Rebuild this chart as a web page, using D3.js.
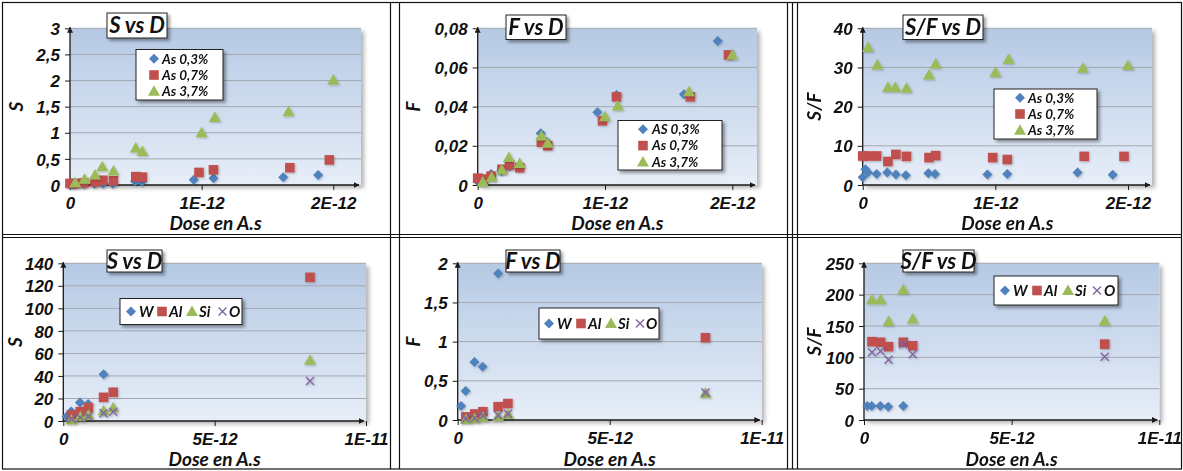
<!DOCTYPE html>
<html><head><meta charset="utf-8">
<script src="https://cdn.jsdelivr.net/npm/d3@7"></script>
<style>
html,body{margin:0;padding:0;background:#fff;}
svg{display:block;font-family:Lato,"Open Sans",sans-serif;}
</style></head><body>
<svg id="c" width="1183" height="471"></svg>
<script>
// ---------- DATA (top row: arsenic doping series) ----------
const as03Dose = [0.00e-12,0.02e-12,0.04e-12,0.105e-12,0.185e-12,0.25e-12,0.325e-12,0.495e-12,0.545e-12,0.94e-12,1.09e-12,1.62e-12,1.885e-12];
const as03S    = [0.004,0.008,0.009,0.016,0.023,0.026,0.023,0.07,0.062,0.10,0.13,0.15,0.19];
const as03F    = [0.002,0.002,0.003,0.0056,0.0071,0.0095,0.009,0.0264,0.022,0.0371,0.046,0.0463,0.0735];
const as03SF   = [2.0,4.0,3.2,2.8,3.2,2.7,2.5,3.0,2.8,2.7,2.8,3.2,2.6];

const as07Dose = [0.00e-12,0.045e-12,0.105e-12,0.19e-12,0.25e-12,0.33e-12,0.50e-12,0.55e-12,0.98e-12,1.09e-12,1.67e-12,1.97e-12];
const as07S    = [0.03,0.03,0.04,0.06,0.09,0.08,0.16,0.15,0.24,0.29,0.33,0.48];
const as07F    = [0.0035,0.003,0.0045,0.008,0.0102,0.0088,0.0218,0.020,0.0328,0.045,0.045,0.0664];
const as07SF   = [7.4,7.4,7.4,6.0,7.8,7.3,7.0,7.5,7.0,6.5,7.3,7.3];

const as37Dose = [0.04e-12,0.11e-12,0.19e-12,0.245e-12,0.33e-12,0.50e-12,0.55e-12,1.00e-12,1.10e-12,1.66e-12,2.00e-12];
const as37S    = [0.044,0.11,0.19,0.35,0.27,0.71,0.64,1.00,1.29,1.40,2.01];
const as37F    = [0.0015,0.0039,0.0077,0.0141,0.011,0.025,0.0213,0.0349,0.0403,0.0476,0.0664];
const as37SF   = [35.1,30.6,24.9,24.9,24.7,28.1,30.9,28.7,32.1,29.8,30.5];

// ---------- DATA (bottom row: elements) ----------
const wDose  = [0.11e-12,0.26e-12,0.55e-12,0.82e-12,1.33e-12];
const wS     = [4,8.5,16.5,15,41.5];
const wF     = [0.18,0.37,0.74,0.68,1.87];
const wSF    = [22.5,22.5,22.5,21,22.5];

const elDose = [0.27e-12,0.56e-12,0.83e-12,1.33e-12,1.65e-12,8.15e-12];
const alS    = [5.3,8.3,11.8,21,25.5,127.5];
const alF    = [0.04,0.077,0.106,0.17,0.21,1.05];
const alSF   = [125,124,117,124,118.5,121];
const siS    = [1,3.8,5.3,9.1,11.8,54];
const siF    = [0.005,0.02,0.034,0.044,0.073,0.34];
const siSF   = [192,192,157,208,161,158];
const oS     = [2,3,4,6.8,8.3,35.5];
const oF     = [0.018,0.027,0.056,0.06,0.08,0.35];
const oSF    = [108,110,96,121,105,101];

// ---------- TICKS / LABELS ----------
const topLegend = ["As 0,3%","As 0,7%","As 3,7%"];
const topLegendF = ["AS 0,3%","As 0,7%","As 3,7%"];
const botLegend = ["W","Al","Si","O"];
const xTicksTop = [0,1e-12,2e-12];
const xLabelsTop = ["0","1E-12","2E-12"];
const xTicksBot = [0,5e-12,1e-11];
const xLabelsBot = ["0","5E-12","1E-11"];
const yTicksS1 = [0,0.5,1,1.5,2,2.5,3];
const yTicksF1 = [0,0.02,0.04,0.06,0.08];
const yTicksSF1 = [0,10,20,30,40];
const yTicksS2 = [0,20,40,60,80,100,120,140];
const yTicksF2 = [0,0.5,1,1.5,2];
const yTicksSF2 = [0,50,100,150,200,250];
const titles = ["S vs D","F vs D","S/F vs D"];
const yTitles = ["S","F","S/F"];
const xTitle = "Dose en A.s";

const colors = {diamond:"#4F81BD", square:"#C0504D", triangle:"#9BBB59", x:"#8064A2"};

const svg = d3.select("#c");
const defs = svg.append("defs");
const grad = defs.append("linearGradient").attr("id","bg").attr("x1",0).attr("y1",0).attr("x2",0).attr("y2",1);
grad.append("stop").attr("offset","0%").attr("stop-color","#b5c9e4");
grad.append("stop").attr("offset","100%").attr("stop-color","#e7eef8");
const sh = defs.append("filter").attr("id","sh").attr("x","-20%").attr("y","-20%").attr("width","150%").attr("height","150%");
sh.append("feDropShadow").attr("dx",2.5).attr("dy",2.5).attr("stdDeviation",1.8).attr("flood-color","#000").attr("flood-opacity",0.38);
const shp = defs.append("filter").attr("id","shp").attr("x","-10%").attr("y","-10%").attr("width","120%").attr("height","120%");
shp.append("feDropShadow").attr("dx",3).attr("dy",3).attr("stdDeviation",2.2).attr("flood-color","#000").attr("flood-opacity",0.3);
const shm = defs.append("filter").attr("id","shm").attr("x","-50%").attr("y","-50%").attr("width","200%").attr("height","200%");
shm.append("feDropShadow").attr("dx",1).attr("dy",1).attr("stdDeviation",0.8).attr("flood-color","#000").attr("flood-opacity",0.25);
defs.append("marker").attr("id","arr").attr("viewBox","0 0 10 10").attr("refX",9).attr("refY",5)
  .attr("markerWidth",6).attr("markerHeight",6).attr("markerUnits","userSpaceOnUse").attr("orient","auto")
  .append("path").attr("d","M0,0 L10,5 L0,10 Z").attr("fill","#1a1a1a");

const shapes = {
  diamond: "M0,-5 L5,0 L0,5 L-5,0Z",
  square: "M-4.8,-4.8 H4.8 V4.8 H-4.8Z",
  triangle: "M0,-6 L6,4.5 L-6,4.5Z",
  x: "M-4,-4 L4,4 M-4,4 L4,-4"
};
function marker(sel, type){
  sel.attr("d", shapes[type]);
  if(type==="x") sel.attr("fill","none").attr("stroke",colors.x).attr("stroke-width",1.4);
  else sel.attr("fill",colors[type]);
}
const fmt = v => String(v).replace(".",",");
const TICK_FS = 17, AXT_FS = 19, TITLE_FS = 22, LEG_FS = 13.5;

function panel(c){
  const g = svg.append("g");
  const x = d3.scaleLinear().domain(c.xDomain).range([c.left,c.right]);
  const y = d3.scaleLinear().domain(c.yDomain).range([c.bottom,c.top]);
  g.append("rect").attr("x",c.left).attr("y",c.top).attr("width",c.plotRight-c.left).attr("height",c.bottom-c.top)
    .attr("fill","url(#bg)").attr("filter","url(#shp)");
  g.append("g").selectAll("line").data(c.yTicks.filter(t=>t>0)).join("line")
    .attr("x1",c.left).attr("x2",c.plotRight).attr("y1",d=>y(d)).attr("y2",d=>y(d))
    .attr("stroke","#a3a8b0").attr("stroke-width",1);
  const ya = g.append("g").attr("transform",`translate(${c.left},0)`)
    .call(d3.axisLeft(y).tickValues(c.yTicks).tickFormat(fmt).tickSize(5).tickSizeOuter(0).tickPadding(5));
  ya.select(".domain").remove();
  ya.selectAll(".tick line").attr("stroke","#1a1a1a");
  ya.selectAll("text").attr("font-size",TICK_FS).attr("font-weight","bold").attr("font-style","italic").attr("fill","#111").attr("dy","0.36em");
  const xa = g.append("g").attr("transform",`translate(0,${c.bottom})`)
    .call(d3.axisBottom(x).tickValues(c.xTicks).tickFormat((d,i)=>c.xLabels[i]).tickSize(5).tickSizeOuter(0).tickPadding(7));
  xa.select(".domain").remove();
  xa.selectAll(".tick line").attr("stroke","#1a1a1a");
  xa.selectAll("text").attr("font-size",TICK_FS).attr("font-weight","bold").attr("font-style","italic").attr("fill","#111");
  g.append("line").attr("x1",c.left).attr("x2",c.left).attr("y1",c.bottom).attr("y2",c.top-1)
    .attr("stroke","#1a1a1a").attr("stroke-width",1.3).attr("marker-end","url(#arr)");
  g.append("line").attr("x1",c.left).attr("x2",c.plotRight-2).attr("y1",c.bottom).attr("y2",c.bottom)
    .attr("stroke","#1a1a1a").attr("stroke-width",1.3).attr("marker-end","url(#arr)");
  g.append("text").attr("x",(c.left+c.plotRight)/2).attr("y",c.bottom+c.xTitleOff).attr("text-anchor","middle")
    .attr("font-size",AXT_FS).attr("font-weight","bold").attr("font-style","italic").attr("fill","#111").text(xTitle);
  g.append("text").attr("transform",`translate(${c.yTitleX},${(c.top+c.bottom)/2}) rotate(-90)`).attr("text-anchor","middle")
    .attr("font-size",AXT_FS).attr("font-weight","bold").attr("font-style","italic").attr("fill","#111").text(c.yTitle);
  c.series.forEach(s=>{
    g.append("g").attr("filter","url(#shm)").selectAll("path").data(s.dose.map((d,i)=>[d,s.vals[i]])).join("path")
      .attr("transform",d=>`translate(${x(d[0])},${y(d[1])})`).call(marker,s.type);
  });
  const t = c.title;
  g.append("rect").attr("x",t.x).attr("y",t.y).attr("width",t.w).attr("height",t.h)
    .attr("fill","#fff").attr("stroke","#222").attr("stroke-width",1).attr("filter","url(#sh)");
  g.append("text").attr("x",t.x+t.w/2).attr("y",t.y+t.h/2).attr("dy","0.36em").attr("text-anchor","middle")
    .attr("font-size",TITLE_FS).attr("font-weight","bold").attr("font-style","italic").attr("fill","#111").text(t.text);
  const L = c.legend;
  g.append("rect").attr("x",L.x).attr("y",L.y).attr("width",L.w).attr("height",L.h)
    .attr("fill","#fff").attr("stroke","#222").attr("stroke-width",1).attr("filter","url(#sh)");
  L.items.forEach((it,i)=>{
    g.append("path").attr("transform",`translate(${it.mx},${it.my})`).call(marker,c.series[i].type);
    g.append("text").attr("x",it.tx).attr("y",it.my).attr("dy","0.36em")
      .attr("font-size",c.legFs||LEG_FS).attr("font-weight","bold").attr("font-style","italic").attr("fill","#111").text(it.label);
  });
}

function vLegend(x,y,w,h,labels,mx,tx,rows){
  return {x,y,w,h,items:labels.map((l,i)=>({mx,my:rows[i],tx,label:l}))};
}
function hLegend(x,y,w,h,cy,mxs,txs){
  return {x,y,w,h,items:botLegend.map((l,i)=>({mx:mxs[i],my:cy,tx:txs[i],label:l}))};
}

const topSeries = (a,b,c)=>[
  {type:"diamond",dose:as03Dose,vals:a},
  {type:"square",dose:as07Dose,vals:b},
  {type:"triangle",dose:as37Dose,vals:c}];
const botSeries = (w,al,si,o)=>[
  {type:"diamond",dose:wDose,vals:w},
  {type:"square",dose:elDose,vals:al},
  {type:"triangle",dose:elDose,vals:si},
  {type:"x",dose:elDose,vals:o}];

panel({left:70,right:359.6,plotRight:361,top:28.3,bottom:185,xDomain:[0,2.2e-12],yDomain:[0,3],
  yTicks:yTicksS1,xTicks:xTicksTop,xLabels:xLabelsTop,yTitle:yTitles[0],yTitleX:23,xTitleOff:45,
  series:topSeries(as03S,as07S,as37S),
  title:{x:107,y:13,w:60,h:25,text:titles[0]},
  legend:vLegend(136,49.5,87,50.5,topLegend,154,162,[58.7,75,91.3])});
panel({left:477.7,right:757.8,plotRight:757,top:28.3,bottom:185,xDomain:[0,2.2e-12],yDomain:[0,0.08],
  yTicks:yTicksF1,xTicks:xTicksTop,xLabels:xLabelsTop,yTitle:yTitles[1],yTitleX:420,xTitleOff:45,
  series:topSeries(as03F,as07F,as37F),
  title:{x:506,y:15,w:60,h:24.5,text:titles[1]},
  legend:vLegend(618,120.5,104,49.5,topLegendF,643,652,[129.3,145.6,161.9])});
panel({left:862.7,right:1154.5,plotRight:1152,top:28.3,bottom:185,xDomain:[0,2.2e-12],yDomain:[0,40],
  yTicks:yTicksSF1,xTicks:xTicksTop,xLabels:xLabelsTop,yTitle:yTitles[2],yTitleX:821,xTitleOff:45,
  series:topSeries(as03SF,as07SF,as37SF),
  title:{x:903,y:15,w:80,h:24.5,text:titles[2]},
  legend:vLegend(994,89,103,50,topLegend,1020,1028,[97.7,114,130.3])});

panel({left:63.3,right:366,plotRight:366,top:263.3,bottom:421,xDomain:[0,1e-11],yDomain:[0,140],
  yTicks:yTicksS2,xTicks:xTicksBot,xLabels:xLabelsBot,yTitle:yTitles[0],yTitleX:22,xTitleOff:45,legFs:15,
  series:botSeries(wS,alS,siS,oS),
  title:{x:107,y:250,w:55,h:22,text:titles[0]},
  legend:hLegend(120,298.5,122,26,311.5,[131,162,192,222.5],[139,169,199,229])});
panel({left:457.7,right:761.7,plotRight:761.7,top:263.3,bottom:420,xDomain:[0,1e-11],yDomain:[0,2],
  yTicks:yTicksF2,xTicks:xTicksBot,xLabels:xLabelsBot,yTitle:yTitles[1],yTitleX:420,xTitleOff:46,legFs:15,
  series:botSeries(wF,alF,siF,oF),
  title:{x:506,y:250,w:54,h:22,text:titles[1]},
  legend:hLegend(539,308,120,31,323.5,[549,581,611,640],[557,588,618,646])});
panel({left:864,right:1159.3,plotRight:1159.3,top:263.3,bottom:420,xDomain:[0,1e-11],yDomain:[0,250],
  yTicks:yTicksSF2,xTicks:xTicksBot,xLabels:xLabelsBot,yTitle:yTitles[2],yTitleX:821,xTitleOff:46,legFs:15,
  series:botSeries(wSF,alSF,siSF,oSF),
  title:{x:903,y:250,w:71,h:22,text:titles[2]},
  legend:hLegend(994,276,124,29,290.5,[1005,1037,1068,1097],[1013,1044,1075,1104])});

const bd = svg.append("g").attr("stroke","#111").attr("stroke-width",1.2).attr("fill","none");
bd.append("rect").attr("x",2.5).attr("y",2.5).attr("width",1179).attr("height",466.5);
[390.5,399.5,787.5,792.5,797.5].forEach(v=>bd.append("line").attr("x1",v).attr("x2",v).attr("y1",2.5).attr("y2",469));
[234.5,237.5].forEach(v=>bd.append("line").attr("x1",2.5).attr("x2",1181.5).attr("y1",v).attr("y2",v));
</script>
</body></html>
